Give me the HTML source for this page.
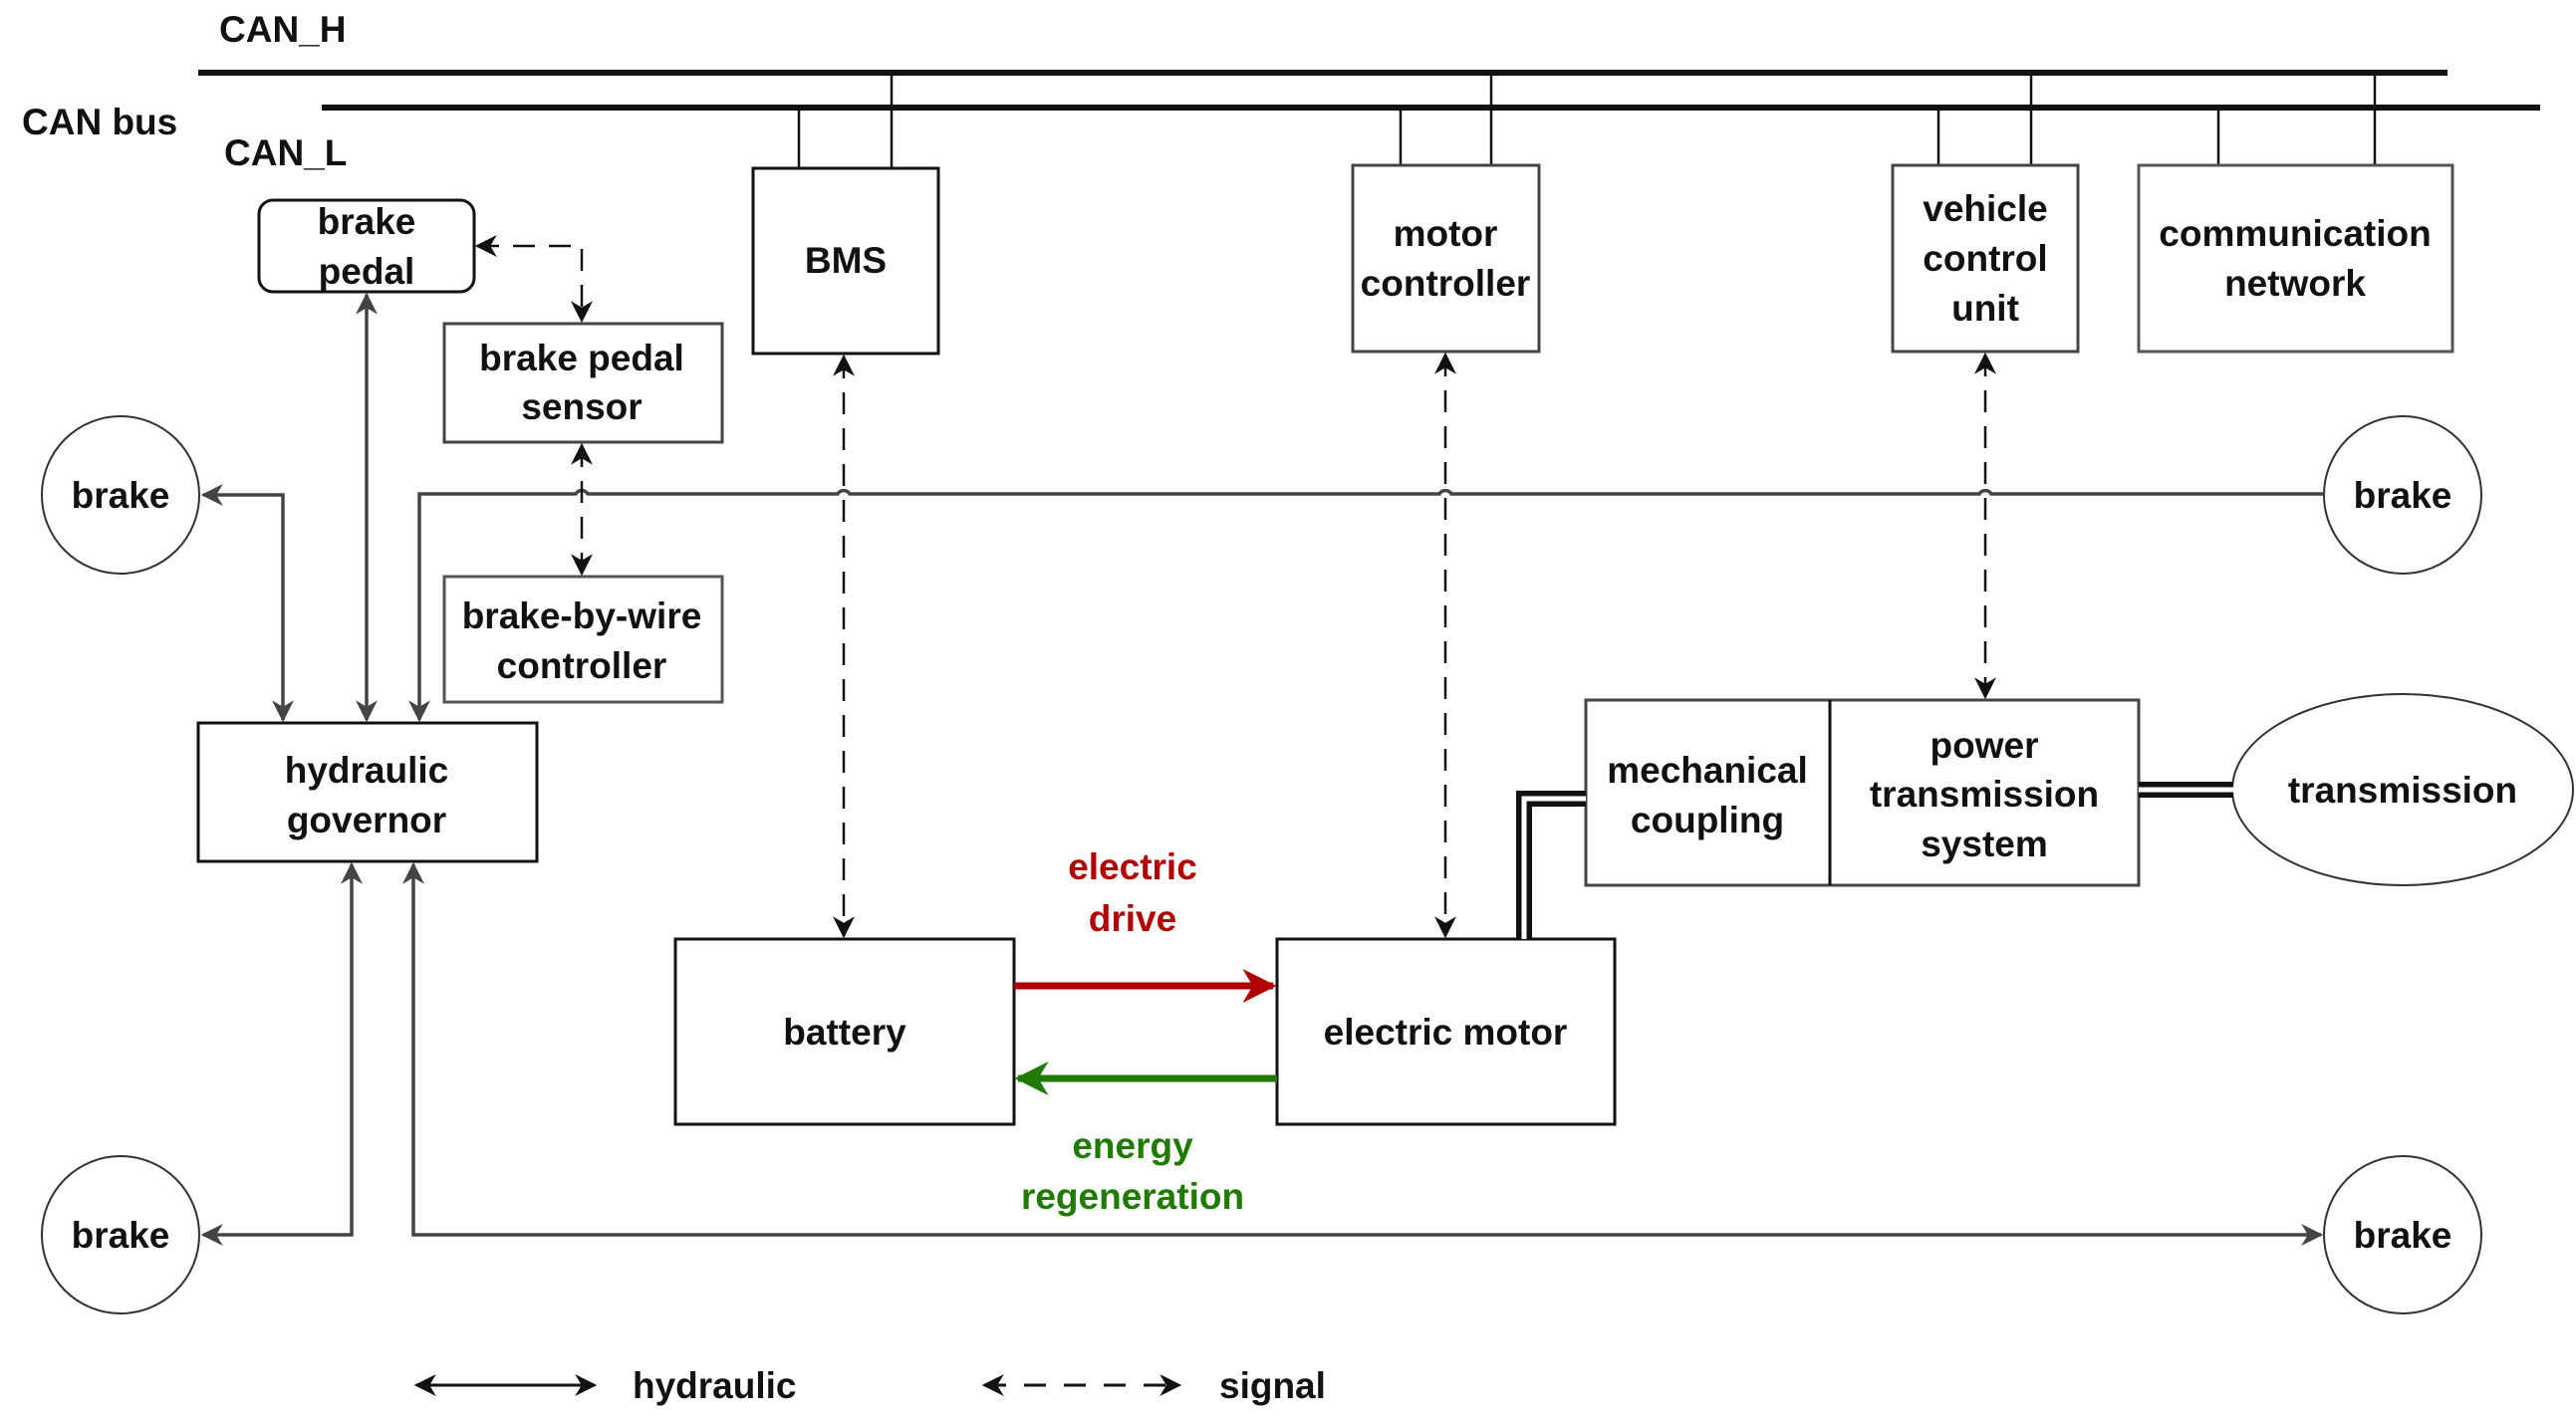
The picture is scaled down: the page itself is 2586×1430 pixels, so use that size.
<!DOCTYPE html>
<html><head><meta charset="utf-8"><style>
html,body{margin:0;padding:0;background:#fff;}
svg{display:block;}
text{font-family:"Liberation Sans",Arial,sans-serif;font-weight:bold;font-size:37px;fill:#111;text-anchor:middle;}
</style></head><body>
<svg width="2586" height="1430" viewBox="0 0 2586 1430" xmlns="http://www.w3.org/2000/svg">
<defs>
<marker id="a" viewBox="0 0 10 10" refX="9" refY="5" markerWidth="9" markerHeight="9" markerUnits="userSpaceOnUse" orient="auto-start-reverse"><path d="M0,0 L10,5 L0,10 L3,5 z" fill="#111"/></marker>
<marker id="a2" viewBox="0 0 10 10" refX="9" refY="5" markerWidth="22" markerHeight="22" markerUnits="userSpaceOnUse" orient="auto-start-reverse"><path d="M0,0 L10,5 L0,10 L3,5 z" fill="context-stroke"/></marker>
<marker id="r" viewBox="0 0 10 10" refX="9" refY="5" markerWidth="34" markerHeight="34" markerUnits="userSpaceOnUse" orient="auto"><path d="M0,0 L10,5 L0,10 L3,5 z" fill="#b00000"/></marker>
<marker id="g" viewBox="0 0 10 10" refX="9" refY="5" markerWidth="34" markerHeight="34" markerUnits="userSpaceOnUse" orient="auto"><path d="M0,0 L10,5 L0,10 L3,5 z" fill="#1e7a00"/></marker>
</defs>
<g stroke="#111" fill="none">
<!-- CAN bus -->
<line x1="199" y1="73" x2="2457" y2="73" stroke-width="6"/>
<line x1="323" y1="108" x2="2550" y2="108" stroke-width="6"/>
<g stroke-width="2.5">
<line x1="802" y1="108" x2="802" y2="169"/><line x1="895" y1="73" x2="895" y2="169"/>
<line x1="1406" y1="108" x2="1406" y2="166"/><line x1="1497" y1="73" x2="1497" y2="166"/>
<line x1="1946" y1="108" x2="1946" y2="166"/><line x1="2039" y1="73" x2="2039" y2="166"/>
<line x1="2227" y1="108" x2="2227" y2="166"/><line x1="2384" y1="73" x2="2384" y2="166"/>
</g>
<!-- boxes -->
<g stroke-width="3">
<rect x="260" y="201" width="216" height="92" rx="14"/>
<rect x="446" y="325" width="279" height="119" stroke="#444"/>
<rect x="756" y="169" width="186" height="186"/>
<rect x="1358" y="166" width="187" height="187" stroke="#444"/>
<rect x="1900" y="166" width="186" height="187" stroke="#444"/>
<rect x="2147" y="166" width="315" height="187" stroke="#555"/>
<rect x="446" y="579" width="279" height="126" stroke="#555"/>
<rect x="199" y="726" width="340" height="139"/>
<rect x="678" y="943" width="340" height="186"/>
<rect x="1282" y="943" width="339" height="186"/>
<rect x="1592" y="703" width="555" height="186" stroke="#444"/>
<line x1="1837" y1="703" x2="1837" y2="889"/>
<circle cx="121" cy="497" r="79" stroke="#333" stroke-width="2"/>
<circle cx="2412" cy="497" r="79" stroke="#333" stroke-width="2"/>
<circle cx="121" cy="1240" r="79" stroke="#333" stroke-width="2"/>
<circle cx="2412" cy="1240" r="79" stroke="#333" stroke-width="2"/>
<ellipse cx="2412" cy="793" rx="171" ry="96" stroke="#333" stroke-width="2"/>
</g>
<!-- hydraulic lines -->
<g stroke="#444" stroke-width="3.5">
<path d="M204,497 H284 V723" marker-start="url(#a2)" marker-end="url(#a2)"/>
<path d="M368,296 V723" marker-start="url(#a2)" marker-end="url(#a2)"/>
<path d="M2332,496 H1999 a7,7 0 0 0 -12,0 H1457 a7,7 0 0 0 -12,0 H853 a7,7 0 0 0 -12,0 H590 a7,7 0 0 0 -12,0 H421 V723" marker-end="url(#a2)"/>
<path d="M204,1240 H353 V868" marker-start="url(#a2)" marker-end="url(#a2)"/>
<path d="M415,868 V1240 H2330" marker-start="url(#a2)" marker-end="url(#a2)"/>
</g>
<!-- signal dashed -->
<g stroke-width="2.5" stroke-dasharray="22,14">
<path d="M479,247 H584 V322" marker-start="url(#a2)" marker-end="url(#a2)"/>
<path d="M584,447 V576" marker-start="url(#a2)" marker-end="url(#a2)"/>
<path d="M847,358 V940" marker-start="url(#a2)" marker-end="url(#a2)"/>
<path d="M1451,356 V940" marker-start="url(#a2)" marker-end="url(#a2)"/>
<path d="M1993,356 V700" marker-start="url(#a2)" marker-end="url(#a2)"/>
</g>
<!-- mechanical double lines -->
<path d="M1530,943 V802 H1592" stroke-width="16"/>
<path d="M1530,943 V802 H1592" stroke="#fff" stroke-width="5"/>
<path d="M2147,793 H2242" stroke-width="16"/>
<path d="M2147,793 H2242" stroke="#fff" stroke-width="5"/>
<!-- power flow -->
<line x1="1018" y1="990" x2="1278" y2="990" stroke="#b00000" stroke-width="7" marker-end="url(#r)"/>
<line x1="1282" y1="1083" x2="1022" y2="1083" stroke="#1e7a00" stroke-width="7" marker-end="url(#g)"/>
<!-- legend -->
<line x1="418" y1="1391" x2="597" y2="1391" stroke-width="3" marker-start="url(#a2)" marker-end="url(#a2)"/>
<line x1="988" y1="1391" x2="1184" y2="1391" stroke-width="3" stroke-dasharray="22,18" marker-start="url(#a2)" marker-end="url(#a2)"/>
</g>
<g>
<text x="220" y="42" style="text-anchor:start">CAN_H</text>
<text x="22" y="135" style="text-anchor:start">CAN bus</text>
<text x="225" y="166" style="text-anchor:start">CAN_L</text>
<text x="368" y="235">brake</text><text x="368" y="285">pedal</text>
<text x="584" y="372">brake pedal</text><text x="584" y="421">sensor</text>
<text x="849" y="274">BMS</text>
<text x="1451" y="247">motor</text><text x="1451" y="297">controller</text>
<text x="1993" y="222">vehicle</text><text x="1993" y="272">control</text><text x="1993" y="322">unit</text>
<text x="2304" y="247">communication</text><text x="2304" y="297">network</text>
<text x="121" y="510">brake</text><text x="2412" y="510">brake</text>
<text x="121" y="1253">brake</text><text x="2412" y="1253">brake</text>
<text x="584" y="631">brake-by-wire</text><text x="584" y="681">controller</text>
<text x="368" y="786">hydraulic</text><text x="368" y="836">governor</text>
<text x="848" y="1049">battery</text>
<text x="1451" y="1049">electric motor</text>
<text x="1714" y="786">mechanical</text><text x="1714" y="836">coupling</text>
<text x="1992" y="761">power</text><text x="1992" y="810">transmission</text><text x="1992" y="860">system</text>
<text x="2412" y="806">transmission</text>
<text x="1137" y="883" style="fill:#b00000">electric</text><text x="1137" y="935" style="fill:#b00000">drive</text>
<text x="1137" y="1163" style="fill:#1e7a00">energy</text><text x="1137" y="1214" style="fill:#1e7a00">regeneration</text>
<text x="635" y="1404" style="text-anchor:start">hydraulic</text>
<text x="1224" y="1404" style="text-anchor:start">signal</text>
</g>
</svg>
</body></html>
